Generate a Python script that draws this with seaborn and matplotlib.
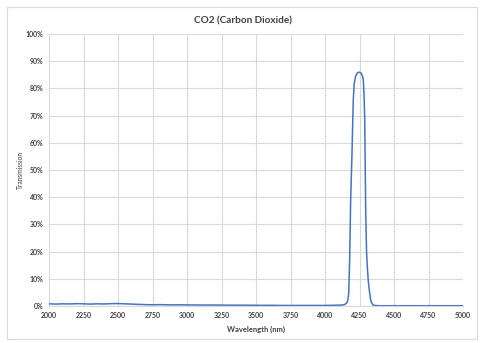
import matplotlib
matplotlib.use("Agg")
import matplotlib.pyplot as plt
import matplotlib.patches as mpatches
from matplotlib.ticker import PercentFormatter, MultipleLocator
import seaborn as sns
import pandas as pd

# Transmission spectrum of the CO2 filter (wavelength in nm, transmission in %)
wavelength = [
    2000, 2050, 2100, 2150, 2200, 2250, 2300, 2350, 2400, 2450, 2500, 2550,
    2600, 2650, 2700, 2750, 2800, 2850, 2900, 2950, 3000, 3100, 3200, 3300,
    3400, 3500, 3600, 3700, 3800, 3900, 4000, 4050, 4100, 4130,
    4145, 4158, 4165, 4172, 4179, 4186, 4195, 4205, 4212, 4222, 4235, 4249,
    4262, 4272, 4278, 4284, 4288, 4295, 4301, 4307, 4314, 4321, 4330, 4338,
    4350, 4370, 4400, 4500, 4600, 4700, 4800, 4900, 5000,
]
transmission = [
    0.8, 0.7, 0.8, 0.75, 0.85, 0.8, 0.7, 0.8, 0.75, 0.85, 0.9, 0.8,
    0.7, 0.6, 0.5, 0.45, 0.5, 0.45, 0.4, 0.45, 0.4, 0.35, 0.35, 0.3,
    0.3, 0.25, 0.25, 0.2, 0.2, 0.2, 0.2, 0.25, 0.3, 0.4,
    0.6, 1.2, 2.0, 4.8, 18.0, 39.0, 55.0, 76.0, 82.0, 84.5, 85.7, 86.0,
    85.6, 84.5, 83.0, 76.0, 68.0, 35.0, 20.0, 14.0, 9.0, 5.9, 2.5, 1.1,
    0.3, 0.15, 0.1, 0.1, 0.1, 0.1, 0.1, 0.1, 0.1,
]
x_ticks = list(range(2000, 5001, 250))

df = pd.DataFrame({"Wavelength (nm)": wavelength, "Transmission": transmission})

sns.set_style("white")
plt.rcParams["font.family"] = ["Lato", "DejaVu Sans"]

fig = plt.figure(figsize=(4.86, 3.43), dpi=100)
ax = fig.add_axes([49 / 486, 1 - 306 / 343, 414 / 486, 272 / 343])

sns.lineplot(data=df, x="Wavelength (nm)", y="Transmission", ax=ax,
             color="#4472C4", linewidth=1.1)

ax.set_xlim(2000, 5000)
ax.set_ylim(0, 100)
ax.set_xticks(x_ticks)
ax.yaxis.set_major_locator(MultipleLocator(10))
ax.yaxis.set_major_formatter(PercentFormatter(xmax=100, decimals=0))

ax.grid(True, color="#d9d9d9", linewidth=0.8)
ax.set_axisbelow(True)
for side in ["left", "right", "top"]:
    ax.spines[side].set_visible(False)
ax.spines["bottom"].set_color("#d9d9d9")
ax.spines["bottom"].set_linewidth(0.8)

ax.tick_params(axis="both", length=0, labelsize=5, labelcolor="#404040", pad=4)
for lab in ax.get_xticklabels() + ax.get_yticklabels():
    lab.set_fontweight("bold")

ax.set_xlabel("Wavelength (nm)", fontsize=5.5, fontweight="bold",
              color="#404040", labelpad=5)
ax.set_ylabel("Transmission", fontsize=4.8, color="#404040", labelpad=1)

fig.text(243 / 486, 1 - 21 / 343, "CO2 (Carbon Dioxide)", ha="center",
         va="center", fontsize=7.2, color="#404040", fontweight="bold")

# Chart frame
fig.patches.append(mpatches.Rectangle((7 / 486, 1 - 339 / 343), 470 / 486,
                                      332 / 343, transform=fig.transFigure,
                                      fill=False, edgecolor="#d9d9d9",
                                      linewidth=0.8))

fig.savefig("out.png", dpi=100, facecolor="white")
